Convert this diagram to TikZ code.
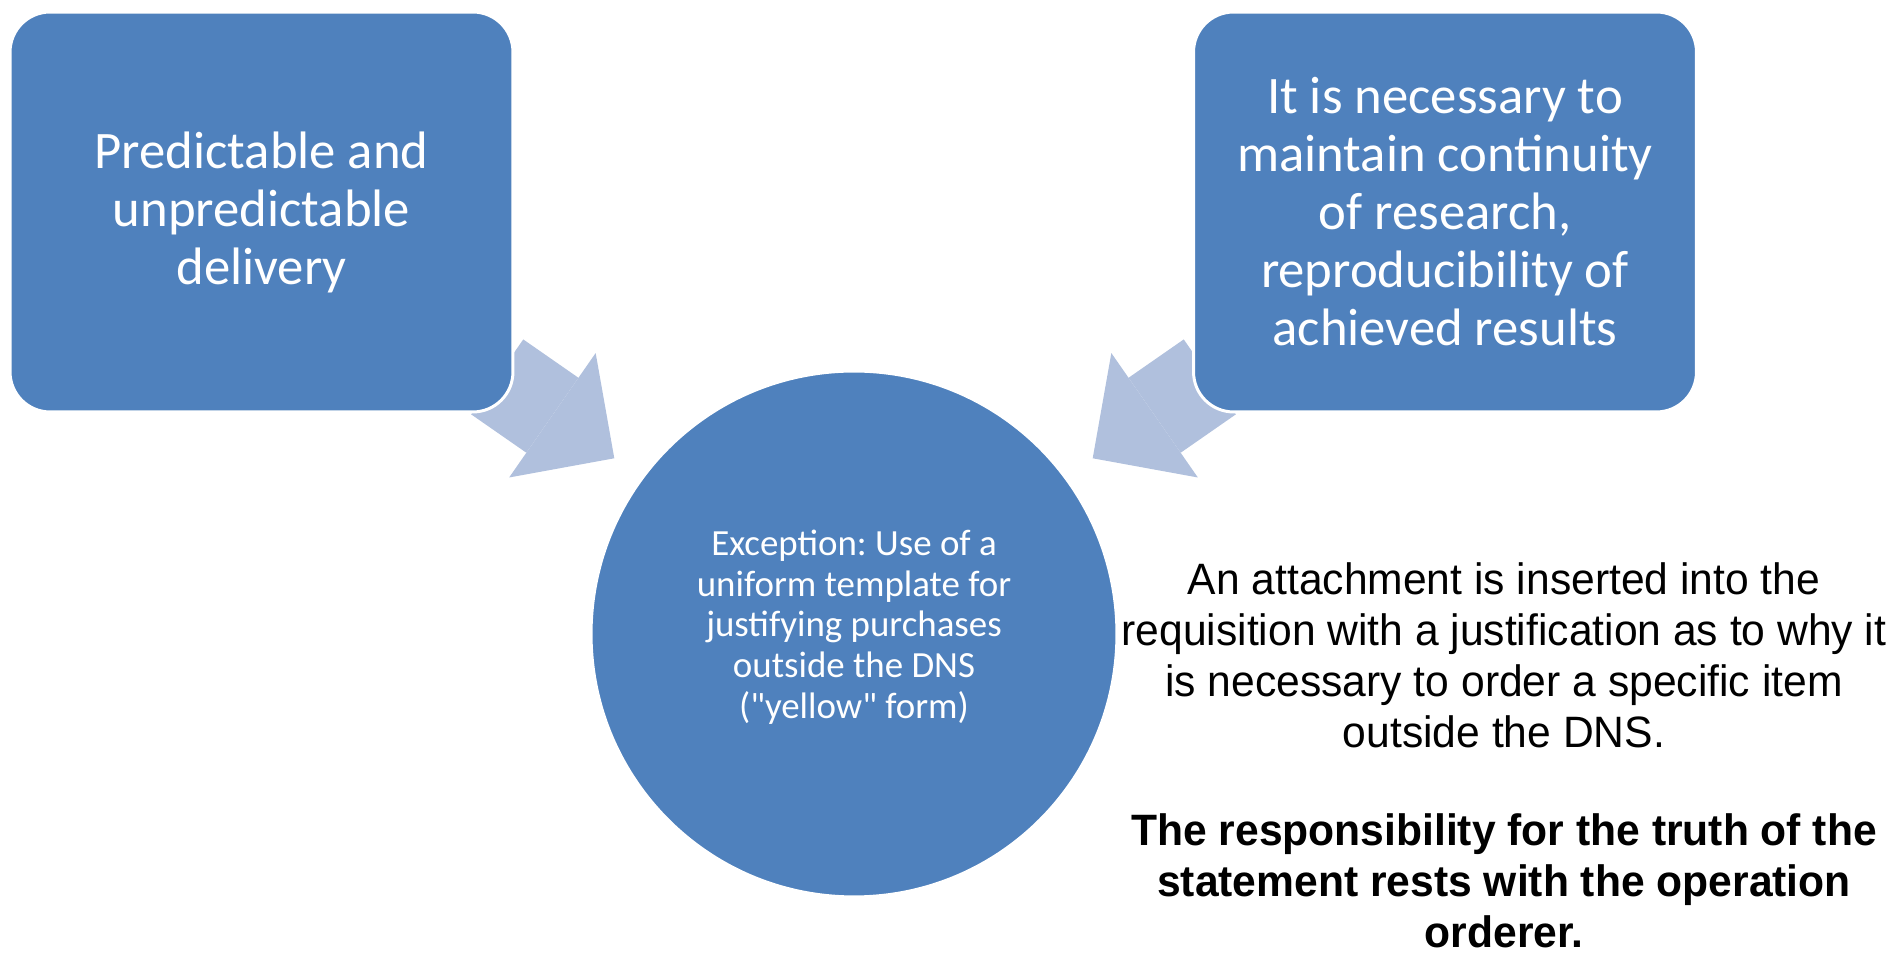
\documentclass[tikz,border=0pt]{standalone}
\usepackage{fontspec}
\setmainfont{Carlito}
\newfontfamily\notefont[FakeStretch=0.97]{Liberation Sans}
\usepackage{xcolor}
\usepackage{tikz}
\usetikzlibrary{arrows.meta,positioning}

\definecolor{boxblue}{RGB}{79,129,189}
\definecolor{flowblue}{RGB}{176,192,221}
\frenchspacing

\begin{document}
\begin{tikzpicture}[
    x=0.02cm, y=0.02cm,
    box/.style={rectangle, rounded corners=0.8cm, draw=white, line width=1.7pt, fill=boxblue, text=white, minimum width=10.06cm, minimum height=8cm, align=center, font=\fontsize{30}{33}\selectfont},
    hub/.style={circle, draw=white, line width=1.7pt, fill=boxblue, minimum size=10.52cm, inner sep=0pt},
    hubtext/.style={inner sep=0pt, text=white, align=center, font=\fontsize{21}{23.2}\selectfont},
    note/.style={inner sep=0pt, align=center, font=\notefont\fontsize{25}{29}\selectfont},
    flow/.style={draw=flowblue, line width=1.826cm, -{Triangle[length=1.508cm, width=3.032cm, line width=0pt]}},
]
    \useasboundingbox (0,0) rectangle (1894,956);
    \coordinate (DB) at (497.2,579.1);
    \coordinate (DT) at (614.3,497.7);
    \coordinate (CB) at (1209.8,579.1);
    \coordinate (CT) at (1092.7,497.7);
    \draw[flow] (DB) -- (DT);
    \draw[flow] (CB) -- (CT);
    \node[box] (D) at (261.5,744) {Predictable and\\unpredictable\\delivery};
    \node[box] (C) at (1445,744) {It is necessary to\\maintain continuity\\of research,\\reproducibility of\\achieved results};
    \node[hub] (E) at (854,322) {};
    \node[hubtext] (ET) at ([yshift=0.14cm]E.center) {Exception: Use of a\\uniform template for\\justifying purchases\\outside the DNS\\(\textquotedbl yellow\textquotedbl{} form)};
    \node[note, anchor=north] (N) at (1504,394) {An attachment is inserted into the\\requisition with a justification as to why it\\is necessary to order a specific item\\outside the DNS.\\[27pt]
        \textbf{The responsibility for the truth of the}\\\textbf{statement rests with the operation}\\\textbf{orderer.}};
\end{tikzpicture}
\end{document}
